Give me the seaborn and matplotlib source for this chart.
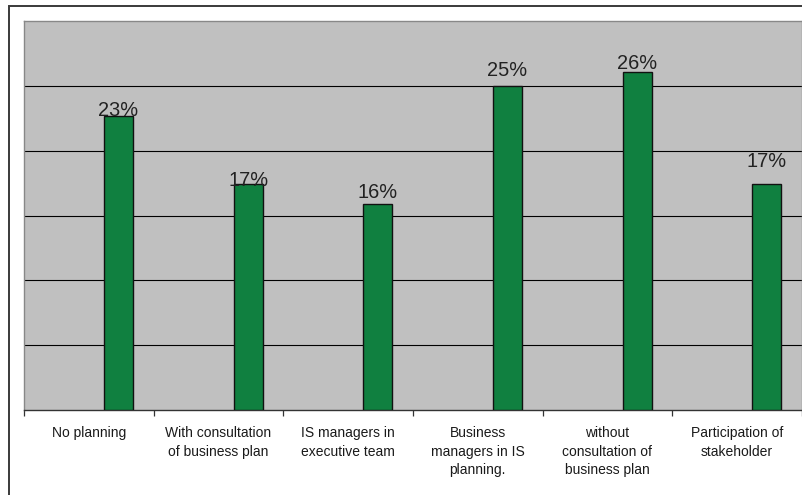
import matplotlib
matplotlib.use("Agg")
import matplotlib.pyplot as plt
import matplotlib.patches as mpatches
import seaborn as sns
import pandas as pd
import numpy as np

categories = [
    "No planning",
    "With consultation\nof business plan",
    "IS managers in\nexecutive team",
    "Business\nmanagers in IS\nplanning.",
    "without\nconsultation of\nbusiness plan",
    "Participation of\nstakeholder",
]
values = [22.7, 17.4, 15.9, 25.0, 26.1, 17.4]
# label vertical offsets (points, upward) relative to bar top, as in the reference
label_offsets = [3.6, 2.9, 8.3, 10.8, 5.8, 16.6]

df = pd.DataFrame({"cat": categories, "val": values, "series": "share"})

sns.set_theme(style="white")
plt.rcParams["font.family"] = ["Liberation Sans", "DejaVu Sans"]

fig = plt.figure(figsize=(8.03, 4.95), dpi=100)
fig.patch.set_facecolor("white")
ax = fig.add_axes([24 / 803, 85 / 495, 778 / 803, 389 / 495])
ax.set_facecolor("#C0C0C0")

green = "#108040"
sns.barplot(
    data=df, x="cat", y="val", hue="series",
    hue_order=["blank", "share"], palette={"blank": green, "share": green},
    order=categories, width=0.916, gap=0.511, dodge=True, saturation=1,
    edgecolor="#111111", linewidth=1.0, legend=False, ax=ax, zorder=3,
)

ax.set_xlim(-0.5, len(categories) - 0.5)
ax.set_ylim(0, 30)
ax.set_yticks([5, 10, 15, 20, 25])
ax.yaxis.grid(True, color="#000000", linewidth=0.8, zorder=1)
ax.set_axisbelow(True)
ax.tick_params(axis="y", left=False, labelleft=False)

# ticks at category boundaries, labels at centers
ax.set_xticks(np.arange(-0.5, len(categories), 1.0))
ax.set_xticklabels([])
ax.set_xticks(np.arange(len(categories)), minor=True)
ax.set_xticklabels(categories, minor=True, fontsize=10, color="#1a1a1a",
                   linespacing=1.42)
ax.tick_params(axis="x", which="major", bottom=True, length=4, width=0.9,
               color="#333333", direction="out")
ax.tick_params(axis="x", which="minor", bottom=True, length=0, pad=11.5)
ax.set_xlabel("")
ax.set_ylabel("")

for side in ["top", "left", "right"]:
    ax.spines[side].set_color("#888888")
    ax.spines[side].set_linewidth(1.0)
ax.spines["bottom"].set_color("#333333")
ax.spines["bottom"].set_linewidth(1.0)

bars = [p for p in ax.patches if p.get_height() > 0]
bars.sort(key=lambda p: p.get_x())
for p, v, off in zip(bars, values, label_offsets):
    ax.annotate(f"{v:.0f}%", (p.get_x() + p.get_width() / 2, p.get_height()),
                xytext=(0, off), textcoords="offset points",
                ha="center", va="center", fontsize=14.4, color="#222222",
                zorder=5)

# outer chart frame (cut off at right and bottom)
frame = mpatches.Rectangle((8.5 / 803, -0.2), 1.2, 0.2 + (495 - 5.5) / 495,
                           transform=fig.transFigure, fill=False,
                           edgecolor="#3a3a3a", linewidth=1.4)
fig.patches.append(frame)

fig.savefig("out.png", dpi=100)
